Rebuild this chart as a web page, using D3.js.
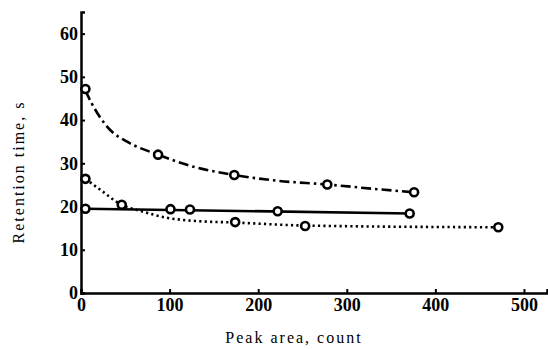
<!DOCTYPE html>
<html>
<head>
<meta charset="utf-8">
<script src="https://cdn.jsdelivr.net/npm/d3@7"></script>
<style>
body { margin: 0; background: #fff; }
svg { display: block; }
.tick text { font-family: "Liberation Serif", "DejaVu Serif", serif; font-weight: bold; font-size: 18px; }
.title { font-family: "Liberation Serif", "DejaVu Serif", serif; font-size: 16px; letter-spacing: 2px; }
</style>
</head>
<body>
<svg id="chart" width="548" height="349"></svg>
<script>
// values
var xTicks = [0, 100, 200, 300, 400, 500];
var yTicks = [0, 10, 20, 30, 40, 50, 60];

var dashDotX = [5, 87, 173, 278, 376];
var dashDotY = [47.2, 32.0, 27.3, 25.1, 23.3];

// fitted curve as traced on the picture
var dashDotCurveX = [5, 12, 33, 52, 87, 127, 173, 220, 278, 330, 376];
var dashDotCurveY = [46.8, 43.9, 37.7, 35.0, 32.0, 29.2, 27.3, 26.0, 25.1, 24.1, 23.3];

var solidX = [5, 101, 123, 222, 371];
var solidY = [19.5, 19.4, 19.3, 18.9, 18.4];

var dottedX = [5, 46, 174, 253, 471];
var dottedY = [26.4, 20.4, 16.4, 15.5, 15.2];

var dottedCurveX = [5, 21, 46, 67, 97, 134, 174, 253, 471];
var dottedCurveY = [26.4, 24.0, 20.4, 19.0, 17.4, 16.6, 16.3, 15.6, 15.2];

function zip(xs, ys) {
	return xs.map(function(x, i) { return [x, ys[i]]; });
}

function draw() {
	var svg = d3.select("#chart");
	var x = d3.scaleLinear().domain([0, 526]).range([81, 547]);
	var y = d3.scaleLinear().domain([0, 65]).range([293, 12]);

	var xAxis = d3.axisBottom(x).tickValues(xTicks).tickSize(-4).tickPadding(5).tickFormat(d3.format("d"));
	var yAxis = d3.axisLeft(y).tickValues(yTicks).tickSize(-4).tickPadding(4).tickFormat(d3.format("d"));

	var gx = svg.append("g").attr("transform", "translate(0,293)").call(xAxis);
	var gy = svg.append("g").attr("transform", "translate(81,0)").call(yAxis);
	[gx, gy].forEach(function(g) {
		g.select(".domain").attr("stroke", "#000").attr("stroke-width", 2.5);
		g.selectAll(".tick line").attr("stroke", "#000").attr("stroke-width", 2);
		g.selectAll(".tick text").attr("fill", "#000");
	});
	gy.selectAll(".tick text").attr("dx", "1px");

	var line = d3.line()
		.x(function(d) { return x(d[0]); })
		.y(function(d) { return y(d[1]); })
		.curve(d3.curveMonotoneX);

	svg.append("path")
		.datum(zip(dashDotCurveX, dashDotCurveY))
		.attr("d", line)
		.attr("fill", "none")
		.attr("stroke", "#000")
		.attr("stroke-width", 2.6)
		.attr("stroke-dasharray", "10,4,2.5,4");

	svg.append("path")
		.datum(zip(dottedCurveX, dottedCurveY))
		.attr("d", line)
		.attr("fill", "none")
		.attr("stroke", "#000")
		.attr("stroke-width", 2.6)
		.attr("stroke-dasharray", "2.2,3.2");

	svg.append("path")
		.datum([[solidX[0], solidY[0]], [solidX[solidX.length - 1], solidY[solidY.length - 1]]])
		.attr("d", d3.line().x(function(d) { return x(d[0]); }).y(function(d) { return y(d[1]); }))
		.attr("fill", "none")
		.attr("stroke", "#000")
		.attr("stroke-width", 2.6);

	var points = zip(dashDotX, dashDotY).concat(zip(solidX, solidY), zip(dottedX, dottedY));
	svg.selectAll("circle")
		.data(points)
		.enter()
		.append("circle")
		.attr("cx", function(d) { return x(d[0]); })
		.attr("cy", function(d) { return y(d[1]); })
		.attr("r", 4)
		.attr("fill", "#fff")
		.attr("stroke", "#000")
		.attr("stroke-width", 2.6);

	svg.append("text")
		.attr("class", "title")
		.attr("x", 294)
		.attr("y", 343)
		.attr("text-anchor", "middle")
		.text("Peak area,  count");

	svg.append("text")
		.attr("class", "title")
		.attr("transform", "translate(24,172) rotate(-90)")
		.attr("text-anchor", "middle")
		.text("Retention  time,  s");
}

draw();
</script>
</body>
</html>
